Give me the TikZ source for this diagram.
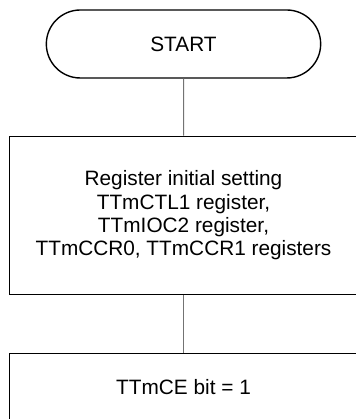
\documentclass[tikz,border=0pt]{standalone}
\usepackage{fontspec}
\setmainfont{Liberation Sans}
\usetikzlibrary{positioning, shapes.misc}

\begin{document}
\begin{tikzpicture}[
  x=1pt, y=1pt,
  terminal/.style={rounded rectangle, draw, line width=1.4pt,
                   minimum width=281pt, minimum height=68pt,
                   align=center, font=\fontsize{20.8}{23.3}\selectfont},
  process/.style={rectangle, draw, line width=1.4pt,
                  minimum width=348pt, align=center,
                  font=\fontsize{20.8}{23.3}\selectfont},
  link/.style={draw=black!55, line width=1pt},
]
\useasboundingbox (0,0) rectangle (355,419);

\node[terminal] (start) at (183.5,375) {START};

\node[process, minimum height=158pt, below=57pt of start] (setting)
  {Register initial setting\\TTmCTL1 register,\\TTmIOC2 register,\\TTmCCR0, TTmCCR1 registers};

\node[process, minimum height=66pt, below=58pt of setting] (enable) {TTmCE bit = 1};

% ---- connectors ----
\draw[link] (start)   -- (setting);
\draw[link] (setting) -- (enable);

\end{tikzpicture}
\end{document}
